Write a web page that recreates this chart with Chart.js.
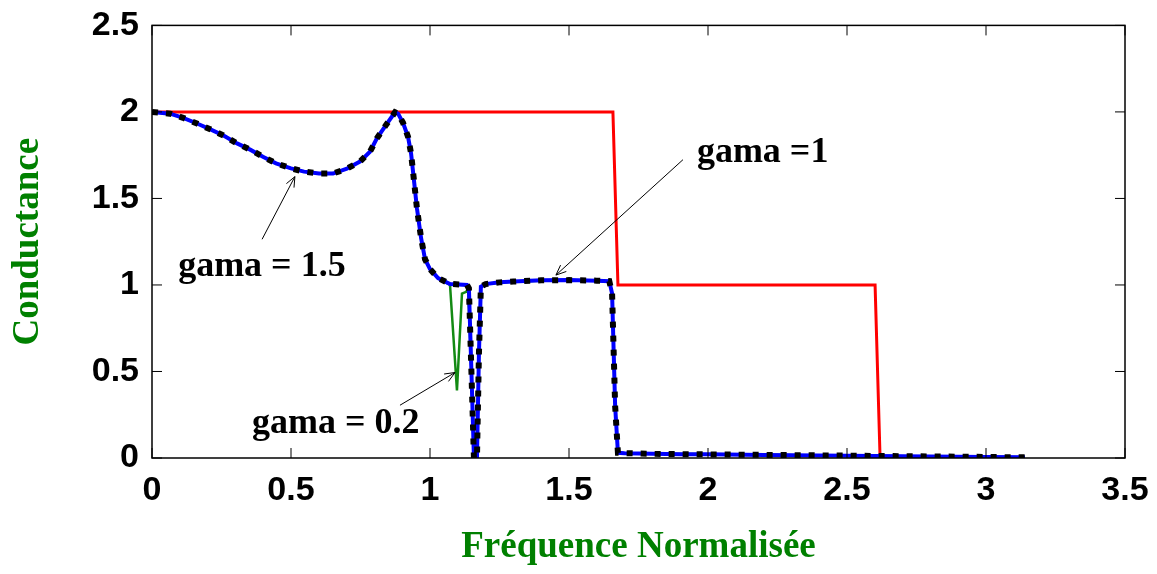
<!DOCTYPE html>
<html lang="fr">
<head>
  <meta charset="UTF-8" />
  <title>Conductance</title>
  <script src="https://cdn.jsdelivr.net/npm/chart.js"></script>
  <style>
    html, body { margin: 0; padding: 0; background: #fff; }
    canvas { display: block; }
  </style>
</head>
<body>
  <canvas id="condChart" width="1157" height="574"></canvas>

  <script>
    // values
    const xTicks = [0, 0.5, 1, 1.5, 2, 2.5, 3, 3.5];
    const yTicks = [0, 0.5, 1, 1.5, 2, 2.5];

    const idealX = [0, 1.658, 1.676, 2.601, 2.619, 3.14];
    const idealY = [2, 2, 1, 1, 0, 0];

    const curveX = [0, 0.065, 0.112, 0.162, 0.212, 0.259, 0.306, 0.353, 0.399, 0.446, 0.5, 0.547, 0.601, 0.651,
      0.701, 0.748, 0.784, 0.809, 0.842, 0.874, 0.885, 0.903, 0.921, 0.932, 0.942, 0.953, 0.968, 0.982, 1.0,
      1.029, 1.072, 1.133, 1.140, 1.149, 1.158, 1.169, 1.176, 1.183, 1.2, 1.25, 1.3, 1.4, 1.5, 1.6, 1.645,
      1.655, 1.666, 1.676, 1.7, 1.8, 1.9, 2.0, 2.2, 2.4, 2.6, 2.8, 3.0, 3.14];
    const gamma1 = [2.0, 1.99, 1.966, 1.933, 1.898, 1.862, 1.818, 1.782, 1.741, 1.703, 1.674, 1.655, 1.644, 1.644,
      1.672, 1.713, 1.770, 1.847, 1.925, 1.998, 1.99, 1.937, 1.856, 1.759, 1.609, 1.443, 1.270, 1.149, 1.092,
      1.040, 1.006, 1.0, 0.98, 0.5, 0, 0, 0.6, 0.99, 1.005, 1.015, 1.02, 1.027, 1.028, 1.025, 1.022,
      0.95, 0.3, 0.03, 0.028, 0.024, 0.022, 0.021, 0.018, 0.015, 0.012, 0.009, 0.006, 0.004];
    const gamma15 = gamma1.slice();

    const greenX = [0, 0.065, 0.112, 0.162, 0.212, 0.259, 0.306, 0.353, 0.399, 0.446, 0.5, 0.547, 0.601, 0.651,
      0.701, 0.748, 0.784, 0.809, 0.842, 0.874, 0.885, 0.903, 0.921, 0.932, 0.942, 0.953, 0.968, 0.982, 1.0,
      1.029, 1.072, 1.097, 1.115, 1.130, 1.137, 1.149, 1.158, 1.169, 1.176, 1.183, 1.2, 1.3, 1.5, 1.645,
      1.655, 1.666, 1.676, 1.7, 2.0, 2.6, 3.14];
    const gamma02 = [2.0, 1.99, 1.966, 1.933, 1.898, 1.862, 1.818, 1.782, 1.741, 1.703, 1.674, 1.655, 1.644, 1.644,
      1.672, 1.713, 1.770, 1.847, 1.925, 1.998, 1.99, 1.937, 1.856, 1.759, 1.609, 1.443, 1.270, 1.149, 1.092,
      1.040, 1.0, 0.39, 0.95, 0.96, 0.98, 0.5, 0, 0, 0.6, 0.99, 1.005, 1.02, 1.028, 1.022,
      0.95, 0.3, 0.03, 0.028, 0.021, 0.012, 0.004];

    const notes = [
      { text: 'gama = 1.5', x: 0.094, y: 1.052, from: [0.396, 1.264], to: [0.514, 1.626] },
      { text: 'gama =1', x: 1.960, y: 1.713, from: [1.910, 1.724], to: [1.453, 1.057] },
      { text: 'gama = 0.2', x: 0.360, y: 0.144, from: [0.892, 0.305], to: [1.090, 0.494] }
    ];

    const pts = (xs, ys) => xs.map((x, i) => ({ x: x, y: ys[i] }));

    // box, inward ticks, and the arrows with their labels
    const boxAndNotes = {
      id: 'boxAndNotes',
      afterDatasetsDraw(chart) {
        const ctx = chart.ctx;
        const a = chart.chartArea;
        const xs = chart.scales.x, ys = chart.scales.y;
        ctx.save();
        ctx.strokeStyle = '#000';
        ctx.lineWidth = 1.5;
        ctx.strokeRect(a.left, a.top, a.right - a.left, a.bottom - a.top);
        ctx.lineWidth = 1;
        xTicks.forEach(v => {
          const p = xs.getPixelForValue(v);
          ctx.beginPath();
          ctx.moveTo(p, a.bottom); ctx.lineTo(p, a.bottom - 10);
          ctx.moveTo(p, a.top); ctx.lineTo(p, a.top + 10);
          ctx.stroke();
        });
        yTicks.forEach(v => {
          const p = ys.getPixelForValue(v);
          ctx.beginPath();
          ctx.moveTo(a.left, p); ctx.lineTo(a.left + 10, p);
          ctx.moveTo(a.right, p); ctx.lineTo(a.right - 10, p);
          ctx.stroke();
        });

        ctx.font = 'bold 36px "Liberation Serif", "Times New Roman", serif';
        ctx.fillStyle = '#000';
        ctx.textAlign = 'left';
        ctx.textBaseline = 'alphabetic';
        notes.forEach(n => {
          ctx.fillText(n.text, xs.getPixelForValue(n.x), ys.getPixelForValue(n.y));
          const x1 = xs.getPixelForValue(n.from[0]), y1 = ys.getPixelForValue(n.from[1]);
          const x2 = xs.getPixelForValue(n.to[0]), y2 = ys.getPixelForValue(n.to[1]);
          const ang = Math.atan2(y2 - y1, x2 - x1);
          ctx.lineWidth = 1;
          ctx.beginPath();
          ctx.moveTo(x1, y1); ctx.lineTo(x2, y2);
          ctx.moveTo(x2 - 11 * Math.cos(ang - 0.4), y2 - 11 * Math.sin(ang - 0.4));
          ctx.lineTo(x2, y2);
          ctx.lineTo(x2 - 11 * Math.cos(ang + 0.4), y2 - 11 * Math.sin(ang + 0.4));
          ctx.stroke();
        });
        ctx.restore();
      }
    };

    const tickFont = { family: '"Liberation Sans", Arial, sans-serif', size: 34, weight: 'bold' };
    const titleFont = { family: '"Liberation Serif", "Times New Roman", serif', size: 37, weight: 'bold' };
    const plainNum = v => String(v);

    new Chart(document.getElementById('condChart'), {
      type: 'scatter',
      data: {
        datasets: [
          { label: 'gama = 1.5', data: pts(curveX, gamma15), showLine: true, borderColor: '#000',
            borderWidth: 6, borderDash: [6, 8], borderCapStyle: 'butt', pointRadius: 0, order: 0 },
          { label: 'gama = 1', data: pts(curveX, gamma1), showLine: true, borderColor: '#0000ff',
            borderWidth: 4, pointRadius: 0, order: 1 },
          { label: 'gama = 0.2', data: pts(greenX, gamma02), showLine: true, borderColor: '#138a13',
            borderWidth: 2.5, pointRadius: 0, order: 2 },
          { label: 'ideal', data: pts(idealX, idealY), showLine: true, borderColor: '#ff0000',
            borderWidth: 3, pointRadius: 0, order: 3 }
        ]
      },
      options: {
        responsive: false,
        animation: false,
        layout: { padding: { top: 23, right: 32, left: 0, bottom: 0 } },
        plugins: { legend: { display: false }, tooltip: { enabled: false } },
        scales: {
          x: {
            type: 'linear', min: 0, max: 3.5,
            afterBuildTicks: s => { s.ticks = xTicks.map(v => ({ value: v })); },
            afterFit: s => { s.height = 116; },
            grid: { display: false },
            border: { display: false },
            ticks: { font: tickFont, color: '#000', padding: 4, maxRotation: 0, callback: plainNum },
            title: { display: true, text: 'Fréquence Normalisée', color: '#008000', font: titleFont,
                     padding: { top: 0, bottom: 4 } }
          },
          y: {
            type: 'linear', min: 0, max: 2.5,
            afterBuildTicks: s => { s.ticks = yTicks.map(v => ({ value: v })); },
            afterFit: s => { s.width = 152; },
            grid: { display: false },
            border: { display: false },
            ticks: { font: tickFont, color: '#000', padding: 5, callback: plainNum },
            title: { display: true, text: 'Conductance', color: '#008000', font: titleFont,
                     padding: { top: 6, bottom: 0 } }
          }
        }
      },
      plugins: [boxAndNotes]
    });
  </script>
</body>
</html>
